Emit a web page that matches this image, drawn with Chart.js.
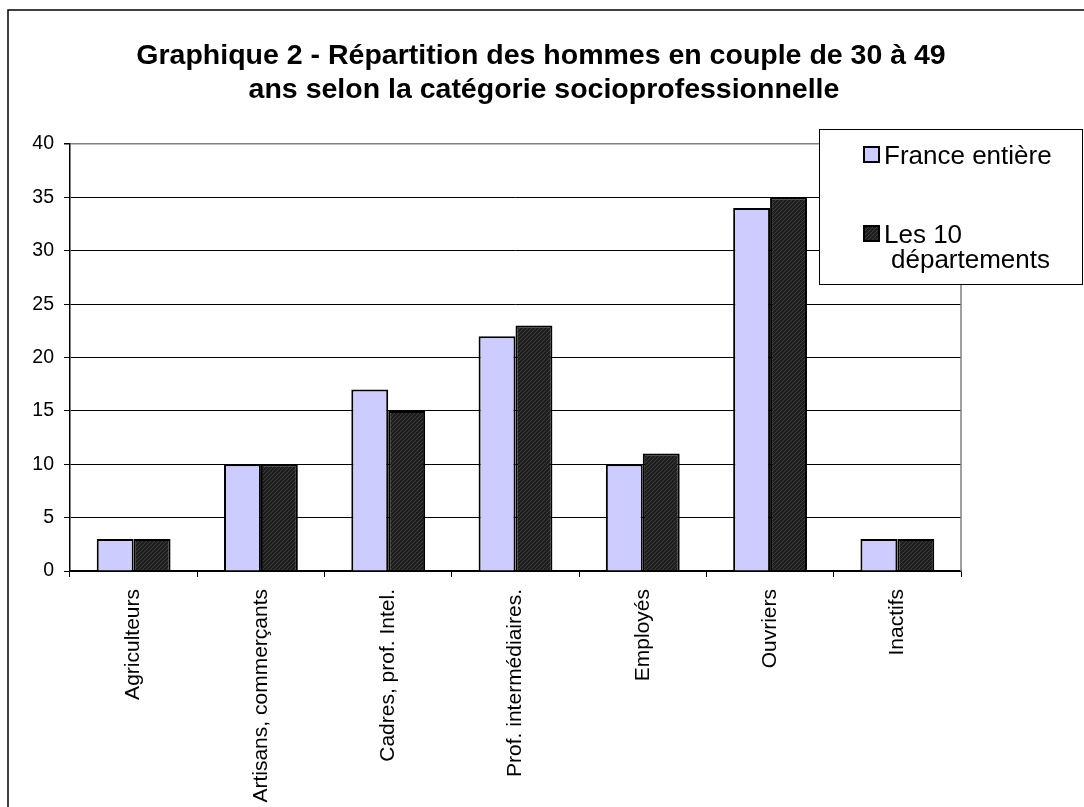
<!DOCTYPE html>
<html>
<head>
    <title>Graphique 2</title>
    <script src="https://cdn.jsdelivr.net/npm/chart.js"></script>
    <style>
        html, body { margin: 0; padding: 0; background: #fff; }
        .chart-container { width: 1084px; height: 807px; position: relative; }
    </style>
</head>
<body>
    <div class="chart-container">
        <canvas id="barChart"></canvas>
    </div>

    <script>
        const categories = ['Agriculteurs', 'Artisans, commerçants', 'Cadres, prof. Intel.',
            'Prof. intermédiaires.', 'Employés', 'Ouvriers', 'Inactifs'];
        const franceEntiere = [3, 10, 17, 22, 10, 34, 3];
        const lesDixDepartements = [3, 10, 15, 23, 11, 35, 3];
        const seriesNames = ['France entière', 'Les 10 départements'];
        const legendLines = [['France entière'], ['Les 10', 'départements']];
        const titleLines = ['Graphique 2 - Répartition des hommes en couple de 30 à 49',
            'ans selon la catégorie socioprofessionnelle'];
        const yTicks = [0, 5, 10, 15, 20, 25, 30, 35, 40];

        const FONT = '"Liberation Sans", Arial, sans-serif';

        // hachure sombre des barres "Les 10 départements"
        function makeHatch() {
            const c = document.createElement('canvas');
            c.width = 4; c.height = 4;
            const g = c.getContext('2d');
            g.fillStyle = '#1e1e1e';
            g.fillRect(0, 0, 4, 4);
            g.fillStyle = '#3c3c3c';
            g.fillRect(0, 3, 1, 1);
            g.fillRect(1, 2, 1, 1);
            g.fillRect(2, 1, 1, 1);
            g.fillRect(3, 0, 1, 1);
            return g.createPattern(c, 'repeat');
        }
        const hatch = makeHatch();
        const lightFill = '#ccccff';
        const fills = [lightFill, hatch];

        const decorPlugin = {
            id: 'decor',
            beforeDraw(chart) {
                const ctx = chart.ctx;
                ctx.save();
                // cadre extérieur
                ctx.strokeStyle = '#000';
                ctx.lineWidth = 1.5;
                ctx.beginPath();
                ctx.moveTo(8, 807);
                ctx.lineTo(8, 10);
                ctx.lineTo(1084, 10);
                ctx.stroke();
                // titre
                ctx.fillStyle = '#000';
                ctx.font = 'bold 28.5px ' + FONT;
                ctx.textAlign = 'center';
                ctx.textBaseline = 'alphabetic';
                ctx.fillText(titleLines[0], 541, 64);
                ctx.fillText(titleLines[1], 544, 98);
                ctx.restore();
            },
            afterDatasetsDraw(chart) {
                const ctx = chart.ctx;
                const a = chart.chartArea;
                ctx.save();
                // bord droit gris de la zone de tracé
                ctx.strokeStyle = '#808080';
                ctx.lineWidth = 1.5;
                ctx.beginPath();
                ctx.moveTo(a.right, a.top);
                ctx.lineTo(a.right, a.bottom);
                ctx.stroke();
                ctx.restore();
            },
            afterDraw(chart) {
                const ctx = chart.ctx;
                ctx.save();
                // légende encadrée
                ctx.fillStyle = '#fff';
                ctx.fillRect(819, 129, 263, 155);
                ctx.strokeStyle = '#000';
                ctx.lineWidth = 1;
                ctx.strokeRect(819.5, 129.5, 263, 155);
                const ys = [155, 234];
                ctx.font = '26px ' + FONT;
                ctx.textBaseline = 'alphabetic';
                ctx.textAlign = 'left';
                legendLines.forEach((lines, i) => {
                    ctx.fillStyle = fills[i];
                    ctx.fillRect(864, ys[i] - 8, 15, 15);
                    ctx.strokeStyle = '#000';
                    ctx.lineWidth = 2;
                    ctx.strokeRect(864, ys[i] - 8, 15, 15);
                    ctx.fillStyle = '#000';
                    lines.forEach((t, j) => {
                        ctx.fillText(t, j === 0 ? 884 : 891, ys[i] + 9 + j * 25);
                    });
                });
                ctx.restore();
            }
        };

        const ctx = document.getElementById('barChart');
        new Chart(ctx, {
            type: 'bar',
            data: {
                labels: categories,
                datasets: [
                    {
                        label: seriesNames[0],
                        data: franceEntiere,
                        backgroundColor: lightFill,
                        borderColor: '#000',
                        borderWidth: 2
                    },
                    {
                        label: seriesNames[1],
                        data: lesDixDepartements,
                        backgroundColor: hatch,
                        borderColor: '#000',
                        borderWidth: 2
                    }
                ]
            },
            options: {
                responsive: true,
                maintainAspectRatio: false,
                animation: false,
                layout: {
                    padding: { left: 10, right: 123, top: 144, bottom: 0 }
                },
                datasets: {
                    bar: { categoryPercentage: 0.58, barPercentage: 1.0 }
                },
                plugins: {
                    legend: { display: false },
                    title: { display: false },
                    tooltip: { enabled: false }
                },
                scales: {
                    x: {
                        afterFit: s => { s.height = 236; },
                        grid: {
                            offset: true,
                            drawOnChartArea: false,
                            drawTicks: true,
                            tickLength: 6,
                            tickColor: '#000'
                        },
                        border: { color: '#000', width: 1.5 },
                        ticks: {
                            minRotation: 90,
                            maxRotation: 90,
                            autoSkip: false,
                            padding: 12,
                            color: '#000',
                            font: { family: FONT, size: 21 }
                        }
                    },
                    y: {
                        min: 0,
                        max: 40,
                        afterFit: s => { s.width = 60; },
                        afterBuildTicks: s => { s.ticks = yTicks.map(v => ({ value: v })); },
                        grid: {
                            color: c => (c.tick && c.tick.value === 40 ? '#808080' : '#000'),
                            lineWidth: c => (c.tick && c.tick.value === 40 ? 1.5 : 1),
                            tickLength: 6,
                            tickColor: '#000'
                        },
                        border: { color: '#000', width: 1.5 },
                        ticks: {
                            padding: 10,
                            color: '#000',
                            font: { family: FONT, size: 19.5 }
                        }
                    }
                }
            },
            plugins: [decorPlugin]
        });
    </script>
</body>
</html>
